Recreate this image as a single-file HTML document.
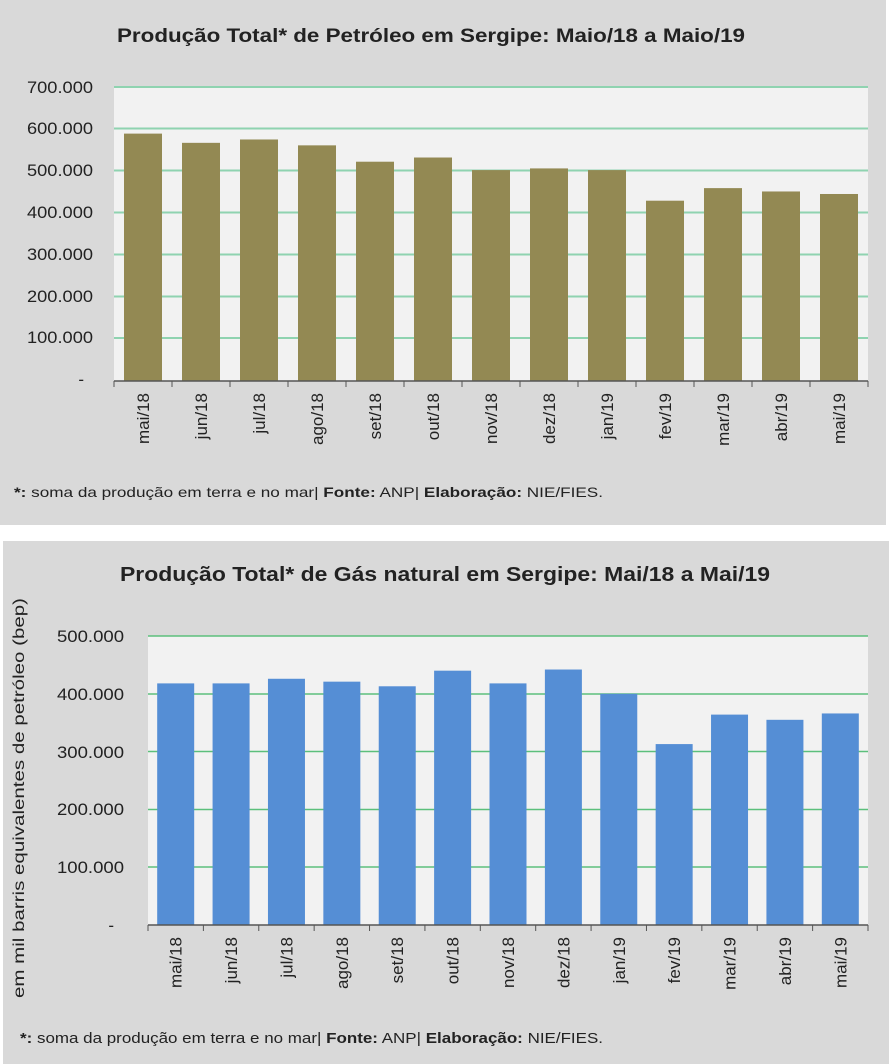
<!DOCTYPE html>
<html><head><meta charset="utf-8"><style>
body{margin:0;background:#fff;}
svg{display:block;font-family:"Liberation Sans",sans-serif;}
</style></head><body>
<svg width="889" height="1064" viewBox="0 0 889 1064" xmlns="http://www.w3.org/2000/svg">
<rect x="0" y="0" width="886" height="525" fill="#d9d9d9"/>
<rect x="3" y="541" width="886" height="523" fill="#d9d9d9"/>
<!-- Top chart -->
<text x="431" y="42" text-anchor="middle" font-size="19" font-weight="bold" fill="#222" textLength="628" lengthAdjust="spacingAndGlyphs">Produção Total* de Petróleo em Sergipe:  Maio/18 a Maio/19</text>
<rect x="114" y="87" width="754" height="294" fill="#f2f2f2"/>
<g stroke="#8fd3b0" stroke-width="2">
<line x1="114" x2="868" y1="87" y2="87"/><line x1="114" x2="868" y1="128.5" y2="128.5"/><line x1="114" x2="868" y1="170.5" y2="170.5"/><line x1="114" x2="868" y1="212.5" y2="212.5"/><line x1="114" x2="868" y1="254.5" y2="254.5"/><line x1="114" x2="868" y1="296.5" y2="296.5"/><line x1="114" x2="868" y1="338" y2="338"/>
</g>
<g font-size="17" fill="#222" text-anchor="end">
<text x="93" y="93" textLength="66" lengthAdjust="spacingAndGlyphs">700.000</text><text x="93" y="134" textLength="66" lengthAdjust="spacingAndGlyphs">600.000</text><text x="93" y="176" textLength="66" lengthAdjust="spacingAndGlyphs">500.000</text><text x="93" y="218" textLength="66" lengthAdjust="spacingAndGlyphs">400.000</text><text x="93" y="260" textLength="66" lengthAdjust="spacingAndGlyphs">300.000</text><text x="93" y="302" textLength="66" lengthAdjust="spacingAndGlyphs">200.000</text><text x="93" y="343" textLength="66" lengthAdjust="spacingAndGlyphs">100.000</text><text x="84" y="385">-</text>
</g>
<text x="14" y="497" font-size="14" fill="#222" textLength="589" lengthAdjust="spacingAndGlyphs"><tspan font-weight="bold">*:</tspan> soma da produção em terra e no mar| <tspan font-weight="bold">Fonte:</tspan>  ANP| <tspan font-weight="bold">Elaboração:</tspan>  NIE/FIES.</text>
<!-- Bottom chart -->
<text x="445" y="581" text-anchor="middle" font-size="20" font-weight="bold" fill="#222" textLength="650" lengthAdjust="spacingAndGlyphs">Produção Total* de Gás natural em Sergipe: Mai/18 a Mai/19</text>
<rect x="148" y="636" width="720" height="289" fill="#f2f2f2"/>
<g stroke="#5cbf7c" stroke-width="1.5">
<line x1="148" x2="868" y1="636" y2="636"/><line x1="148" x2="868" y1="694" y2="694"/><line x1="148" x2="868" y1="751.5" y2="751.5"/><line x1="148" x2="868" y1="809.5" y2="809.5"/><line x1="148" x2="868" y1="867" y2="867"/>
</g>
<g font-size="17" fill="#222" text-anchor="end">
<text x="124" y="642" textLength="67" lengthAdjust="spacingAndGlyphs">500.000</text><text x="124" y="700" textLength="67" lengthAdjust="spacingAndGlyphs">400.000</text><text x="124" y="758" textLength="67" lengthAdjust="spacingAndGlyphs">300.000</text><text x="124" y="815" textLength="67" lengthAdjust="spacingAndGlyphs">200.000</text><text x="124" y="873" textLength="67" lengthAdjust="spacingAndGlyphs">100.000</text><text x="114" y="931">-</text>
</g>
<text transform="translate(24,998) rotate(-90)" font-size="16" fill="#222" textLength="400" lengthAdjust="spacingAndGlyphs">em mil barris equivalentes de petróleo (bep)</text>
<text x="20" y="1043" font-size="15" fill="#222" textLength="583" lengthAdjust="spacingAndGlyphs"><tspan font-weight="bold">*:</tspan> soma da produção em terra e no mar| <tspan font-weight="bold">Fonte:</tspan>  ANP| <tspan font-weight="bold">Elaboração:</tspan> NIE/FIES.</text>
</svg>
<script>
(function(){
var ns="http://www.w3.org/2000/svg",svg=document.querySelector('svg');
var labs=["mai/18","jun/18","jul/18","ago/18","set/18","out/18","nov/18","dez/18","jan/19","fev/19","mar/19","abr/19","mai/19"];
function chart(vals,x0,x1,y0,per,color,bw,ly,fs){
 var cw=(x1-x0)/13;
 for(var i=0;i<13;i++){
  var cx=x0+cw*(i+0.5),h=vals[i]*per;
  var r=document.createElementNS(ns,'rect');
  r.setAttribute('x',cx-bw/2);r.setAttribute('y',y0-h);r.setAttribute('width',bw);r.setAttribute('height',h);r.setAttribute('fill',color);svg.appendChild(r);
  var t=document.createElementNS(ns,'line');
  t.setAttribute('x1',x0+cw*i);t.setAttribute('x2',x0+cw*i);t.setAttribute('y1',y0);t.setAttribute('y2',y0+6);t.setAttribute('stroke','#555');svg.appendChild(t);
  var tx=document.createElementNS(ns,'text');
  tx.setAttribute('transform','translate('+(cx+6)+','+ly+') rotate(-90)');
  tx.setAttribute('font-size',fs);tx.setAttribute('fill','#222');tx.setAttribute('text-anchor','end');
  tx.textContent=labs[i];svg.appendChild(tx);
 }
 var ax=document.createElementNS(ns,'line');
 ax.setAttribute('x1',x0);ax.setAttribute('x2',x1);ax.setAttribute('y1',y0);ax.setAttribute('y2',y0);ax.setAttribute('stroke','#555');ax.setAttribute('stroke-width','1.5');svg.appendChild(ax);
 var t2=document.createElementNS(ns,'line');
 t2.setAttribute('x1',x1);t2.setAttribute('x2',x1);t2.setAttribute('y1',y0);t2.setAttribute('y2',y0+6);t2.setAttribute('stroke','#555');svg.appendChild(t2);
}
chart([590,568,576,562,523,533,503,507,503,430,460,452,446],114,868,381,0.4193,"#938953",38,393,17);
chart([418,418,426,421,413,440,418,442,400,313,364,355,366],148,868,925,0.578,"#558ed5",37,937,17);
})();
</script>
</body></html>
